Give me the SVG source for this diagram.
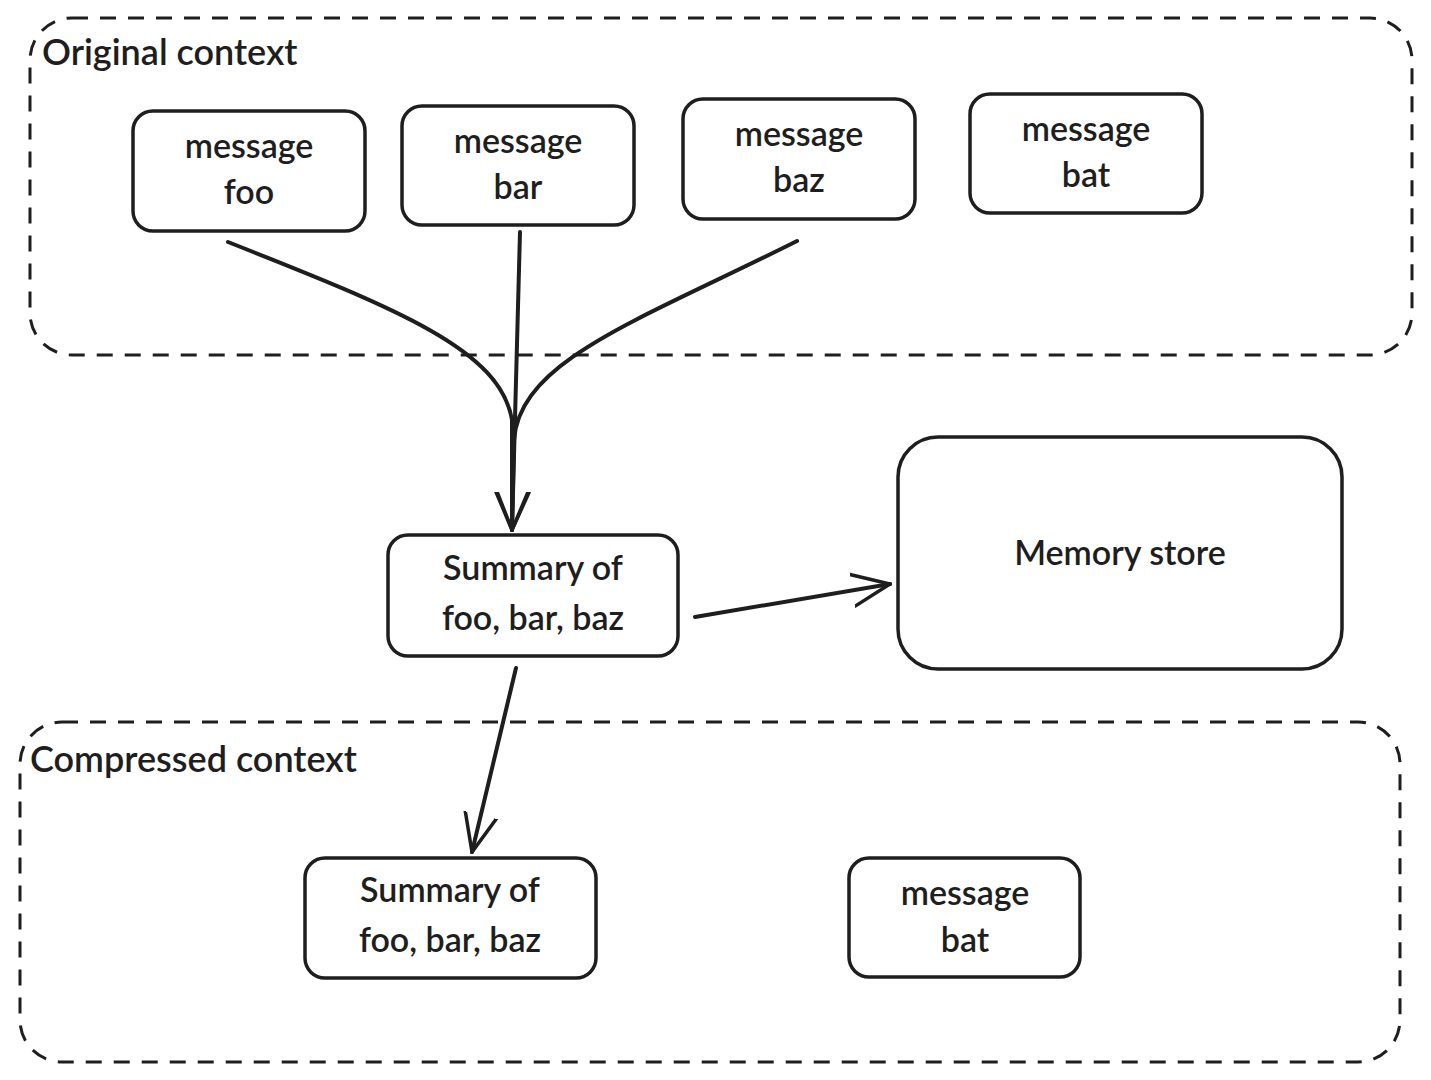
<svg xmlns="http://www.w3.org/2000/svg" width="1431" height="1080" viewBox="0 0 1431 1080">
<style>
.box{fill:none;stroke:#1e1e1e;stroke-width:3.5}
.grp{fill:none;stroke:#1e1e1e;stroke-width:3;stroke-dasharray:16 12}
.t{font-family:"Lato","Liberation Sans",sans-serif;font-size:34px;font-weight:600;fill:#1e1e1e;text-anchor:middle}
.lbl{font-family:"Lato","Liberation Sans",sans-serif;font-size:36px;font-weight:600;fill:#1e1e1e}
.c{fill:none;stroke:#1e1e1e;stroke-width:4;stroke-linecap:round}
</style>
<defs>
<marker id="ah2" viewBox="0 0 40 40" refX="38" refY="20" markerWidth="40" markerHeight="40" markerUnits="userSpaceOnUse" orient="auto"><path d="M0,4 L38,20 L0,36" fill="none" stroke="#1e1e1e" stroke-width="3.5" stroke-linecap="round"/></marker></defs>
<rect width="1431" height="1080" fill="#fff"/>
<g id="original-context"><rect class="grp" x="30" y="18" width="1382" height="337" rx="42"/><text class="lbl" x="42" y="65">Original context</text></g>
<g id="compressed-context"><rect class="grp" x="20" y="722" width="1380" height="340" rx="42"/><text class="lbl" x="30" y="772">Compressed context</text></g>
<g id="foo"><rect class="box" x="133" y="111" width="232" height="120" rx="20"/><text class="t" x="249" y="158">message</text><text class="t" x="249" y="204">foo</text></g>
<g id="bar"><rect class="box" x="402" y="106" width="232" height="119" rx="20"/><text class="t" x="518" y="153">message</text><text class="t" x="518" y="199">bar</text></g>
<g id="baz"><rect class="box" x="683" y="99" width="232" height="120" rx="20"/><text class="t" x="799" y="146">message</text><text class="t" x="799" y="192">baz</text></g>
<g id="bat"><rect class="box" x="970" y="94" width="232" height="119" rx="20"/><text class="t" x="1086" y="141">message</text><text class="t" x="1086" y="187">bat</text></g>
<g id="summary"><rect class="box" x="388" y="535" width="290" height="121" rx="20"/><text class="t" x="533" y="580">Summary of</text><text class="t" x="533" y="630">foo, bar, baz</text></g>
<g id="memory"><rect class="box" x="898" y="437" width="444" height="232" rx="40"/><text class="t" x="1120" y="565">Memory store</text></g>
<g id="summary2"><rect class="box" x="305" y="858" width="291" height="120" rx="20"/><text class="t" x="450" y="902">Summary of</text><text class="t" x="450" y="952">foo, bar, baz</text></g>
<g id="bat2"><rect class="box" x="849" y="858" width="231" height="119" rx="20"/><text class="t" x="965" y="905">message</text><text class="t" x="965" y="952">bat</text></g>
<g id="connectors">
<path class="c" d="M228,242 C400,310 500,350 512,420 L512,530" marker-end="url(#ah2)"/>
<path class="c" d="M520,232 L512,530" marker-end="url(#ah2)"/>
<path class="c" d="M797,241 C640,320 520,360 514,440 L512,530"/>
<path class="c" d="M695,617 L890,584" marker-end="url(#ah2)"/>
<path class="c" d="M516,668 L472,852" marker-end="url(#ah2)"/>
</g>
</svg>
